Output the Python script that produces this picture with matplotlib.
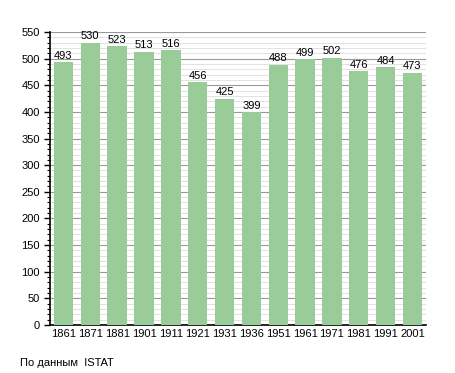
import numpy as np
import matplotlib.pyplot as plt
from matplotlib.ticker import MultipleLocator

plt.rcParams['font.family'] = ['Liberation Sans', 'DejaVu Sans']

# data
years = ['1861', '1871', '1881', '1901', '1911', '1921', '1931',
         '1936', '1951', '1961', '1971', '1981', '1991', '2001']
population = [493, 530, 523, 513, 516, 456, 425, 399, 488, 499, 502, 476, 484, 473]

fig = plt.figure(figsize=(4.55, 3.73), dpi=100)
ax = fig.add_axes([0.11, 0.129, 0.826, 0.785])

x = np.arange(len(years))
ax.bar(x, population, width=0.72, color='#99cc99', zorder=3)

for xi, v in zip(x, population):
    ax.text(xi, v + 3, str(v), ha='center', va='bottom', fontsize=8, zorder=4)

ax.set_xlim(-0.5, len(years) - 0.5)
ax.set_ylim(0, 550)
ax.set_xticks(x)
ax.set_xticklabels(years, fontsize=8)
ax.yaxis.set_major_locator(MultipleLocator(50))
ax.yaxis.set_minor_locator(MultipleLocator(10))
ax.tick_params(axis='y', labelsize=8, length=4, width=1)
ax.tick_params(axis='y', which='minor', length=2, width=0.8)
ax.tick_params(axis='x', length=0, pad=3)

ax.grid(axis='y', which='major', color='#999999', lw=0.8, zorder=0)
ax.grid(axis='y', which='minor', color='#dddddd', lw=0.6, zorder=0)

for side in ['top', 'right']:
    ax.spines[side].set_visible(False)
ax.spines['left'].set_linewidth(1.2)
ax.spines['bottom'].set_linewidth(1.2)

fig.text(0.044, 0.018, 'По данным  ISTAT', fontsize=8)

fig.savefig('out.png', dpi=100)
